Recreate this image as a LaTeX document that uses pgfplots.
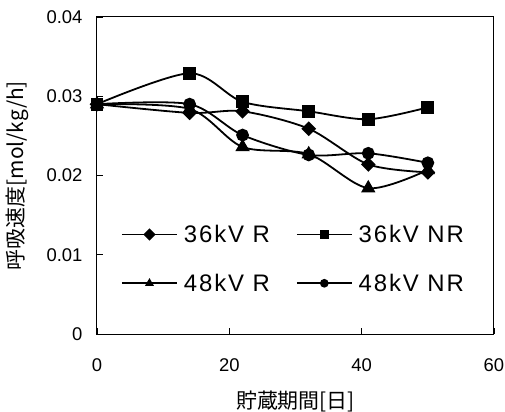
\documentclass[border=0pt]{standalone}
\usepackage{fontspec}
\setmainfont{Liberation Sans}
\newfontfamily\jp{Noto Sans CJK JP}
\newfontfamily\legfont[LetterSpace=8]{Liberation Sans}
\usepackage{pgfplots}
\pgfplotsset{compat=1.18}
\begin{document}
\begin{tikzpicture}
\useasboundingbox (-97bp,-78bp) rectangle (408bp,334bp);
\begin{axis}[
  anchor=south west, at={(0,0)},
  scale only axis,
  width=397bp, height=317bp,
  xmin=0, xmax=60, ymin=0, ymax=0.04,
  xtick={0,20,40,60}, ytick={0,0.01,0.02,0.03,0.04},
  tick align=inside, xtick pos=bottom, ytick pos=left,
  major tick length=6bp,
  axis line style={line width=1bp},
  tick style={line width=0.8bp, black},
  /pgf/number format/assume math mode=true,
  /pgf/number format/fixed,
  /pgf/number format/precision=2,
  scaled y ticks=false,
  yticklabel style={font=\fontsize{18.5}{20}\selectfont, xshift=-11bp},
  xticklabel style={font=\fontsize{18.5}{20}\selectfont, yshift=-21bp},
  xlabel={\jp 貯蔵期間[日]},
  ylabel={\jp 呼吸速度[mol/kg/h]},
  xlabel style={font=\fontsize{21}{22}\selectfont, at={(axis description cs:0.5,-0.2114)}, anchor=center},
  ylabel style={font=\fontsize{21}{22}\selectfont, at={(axis description cs:-0.2003,0.5)}, anchor=center},
  every axis plot/.append style={line width=1.8bp, black, smooth, tension=0.5},
  legend columns=2,
  legend style={at={(0.495,0.237)}, anchor=center, draw=none, fill=none,
    font=\legfont\fontsize{24}{26}\selectfont,
    /tikz/every odd column/.append style={column sep=4bp},
    /tikz/every even column/.append style={column sep=24bp},
    row sep=26bp},
  legend image code/.code={\draw[mark repeat=2,mark phase=2] plot coordinates {(0bp,0bp) (27.5bp,0bp) (55bp,0bp)};},
  legend image post style={mark size=3.4bp, sharp plot},
]
\addplot[mark=square*, mark size=4.3bp, mark options={rotate=45, solid}] coordinates {
 (0,0.0290) (14,0.0279) (22,0.0281) (32,0.0259) (41,0.0214) (50,0.0204)};
\addlegendentry{36kV R}
\addplot[mark=square*, mark size=5.5bp, mark options={solid}] coordinates {
 (0,0.0290) (14,0.0329) (22,0.0293) (32,0.0281) (41,0.0271) (50,0.0286)};
\addlegendentry{36kV NR}
\addplot[mark=triangle*, mark size=6.5bp, mark options={solid}] coordinates {
 (0,0.0290) (14,0.0284) (22,0.0236) (32,0.0227) (41,0.0184) (50,0.0207)};
\addlegendentry{48kV R}
\addplot[mark=*, mark size=5.5bp, mark options={solid}] coordinates {
 (0,0.0290) (14,0.0290) (22,0.0251) (32,0.0226) (41,0.0228) (50,0.0216)};
\addlegendentry{48kV NR}
\end{axis}
\end{tikzpicture}
\end{document}
